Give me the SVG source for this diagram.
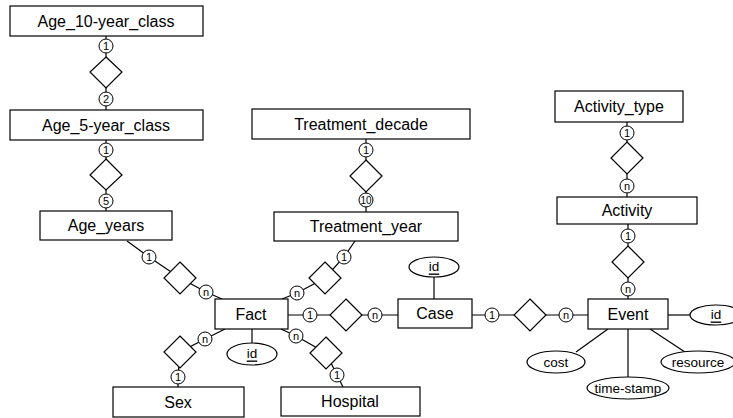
<svg xmlns="http://www.w3.org/2000/svg" width="733" height="418" viewBox="0 0 733 418">
<style>
.box{fill:#fff;stroke:#000;stroke-width:1.2}
.dia{fill:#fff;stroke:#000;stroke-width:1.2}
.ell{fill:#fff;stroke:#000;stroke-width:1.2}
.c{fill:#fff;stroke:#000;stroke-width:1}
.ln{stroke:#000;stroke-width:1.2;fill:none}
.t{font-family:"Liberation Sans",Arial,sans-serif;font-size:16px;text-anchor:middle;dominant-baseline:central;fill:#000}
.a{font-family:"Liberation Sans",Arial,sans-serif;font-size:13.5px;text-anchor:middle;dominant-baseline:central;fill:#000}
.s{font-family:"Liberation Sans",Arial,sans-serif;font-size:11px;text-anchor:middle;dominant-baseline:central;fill:#000}
</style>
<rect width="733" height="418" fill="#fff"/>
<g id="connectors">
<line class="ln" x1="106" y1="36" x2="106" y2="110"/>
<line class="ln" x1="106" y1="140" x2="106" y2="211"/>
<line class="ln" x1="366" y1="139" x2="366" y2="212"/>
<line class="ln" x1="627" y1="122" x2="627" y2="197"/>
<line class="ln" x1="628" y1="224" x2="628" y2="299"/>
<polyline class="ln" points="127,241 149,257 180,278 206,292 222,299"/>
<polyline class="ln" points="355,241 344,257 325,278 297,293 282,299"/>
<line class="ln" x1="288" y1="315" x2="398" y2="315"/>
<line class="ln" x1="472" y1="315" x2="588" y2="315"/>
<polyline class="ln" points="225,329 205,339 180,352 178,377 178,387"/>
<polyline class="ln" points="281,329 296,336 326,353 337,375 343,387"/>
<line class="ln" x1="252" y1="329" x2="252" y2="344"/>
<line class="ln" x1="434" y1="277" x2="434" y2="299"/>
<line class="ln" x1="668" y1="315" x2="690" y2="315"/>
<line class="ln" x1="608" y1="329" x2="576" y2="352"/>
<line class="ln" x1="628" y1="329" x2="628" y2="378"/>
<line class="ln" x1="650" y1="329" x2="685" y2="352"/>
</g>
<g id="relationships">
<polygon class="dia" points="106,57 122,72 106,88 90,72"/>
<polygon class="dia" points="106,159 122,175 106,190 90,175"/>
<polygon class="dia" points="366,160 382,176 366,192 350,176"/>
<polygon class="dia" points="627,142 643,158 627,174 611,158"/>
<polygon class="dia" points="628,246 644,262 628,278 612,262"/>
<polygon class="dia" points="180,262 196,278 180,294 164,278"/>
<polygon class="dia" points="325,262 341,278 325,294 309,278"/>
<polygon class="dia" points="346,299 362,315 346,331 330,315"/>
<polygon class="dia" points="530,299 546,315 530,331 514,315"/>
<polygon class="dia" points="180,336 196,352 180,368 164,352"/>
<polygon class="dia" points="326,337 342,353 326,369 310,353"/>
</g>
<g id="cardinalities">
<circle class="c" cx="106" cy="46" r="7"/><text class="s" x="106" y="46">1</text>
<circle class="c" cx="106" cy="99" r="7"/><text class="s" x="106" y="99">2</text>
<circle class="c" cx="106" cy="150" r="7"/><text class="s" x="106" y="150">1</text>
<circle class="c" cx="106" cy="201" r="7"/><text class="s" x="106" y="201">5</text>
<circle class="c" cx="366" cy="150" r="7"/><text class="s" x="366" y="150">1</text>
<circle class="c" cx="366" cy="200" r="7"/><text class="s" x="366" y="200" style="font-size:10px">10</text>
<circle class="c" cx="627" cy="133" r="7"/><text class="s" x="627" y="133">1</text>
<circle class="c" cx="627" cy="186" r="7"/><text class="s" x="627" y="186">n</text>
<circle class="c" cx="628" cy="236" r="7"/><text class="s" x="628" y="236">1</text>
<circle class="c" cx="628" cy="289" r="7"/><text class="s" x="628" y="289">n</text>
<circle class="c" cx="149" cy="257" r="7"/><text class="s" x="149" y="257">1</text>
<circle class="c" cx="206" cy="292" r="7"/><text class="s" x="206" y="292">n</text>
<circle class="c" cx="344" cy="257" r="7"/><text class="s" x="344" y="257">1</text>
<circle class="c" cx="297" cy="293" r="7"/><text class="s" x="297" y="293">n</text>
<circle class="c" cx="310" cy="315" r="7"/><text class="s" x="310" y="315">1</text>
<circle class="c" cx="375" cy="315" r="7"/><text class="s" x="375" y="315">n</text>
<circle class="c" cx="492" cy="315" r="7"/><text class="s" x="492" y="315">1</text>
<circle class="c" cx="566" cy="315" r="7"/><text class="s" x="566" y="315">n</text>
<circle class="c" cx="205" cy="339" r="7"/><text class="s" x="205" y="339">n</text>
<circle class="c" cx="178" cy="377" r="7"/><text class="s" x="178" y="377">1</text>
<circle class="c" cx="296" cy="336" r="7"/><text class="s" x="296" y="336">n</text>
<circle class="c" cx="337" cy="375" r="7"/><text class="s" x="337" y="375">1</text>
</g>
<g id="Age_10-year_class"><rect class="box" x="10" y="6" width="193" height="30"/><text class="t" x="106" y="21">Age_10-year_class</text></g>
<g id="Age_5-year_class"><rect class="box" x="10" y="110" width="193" height="30"/><text class="t" x="106" y="125">Age_5-year_class</text></g>
<g id="Age_years"><rect class="box" x="40" y="211" width="132" height="29"/><text class="t" x="106" y="225.5">Age_years</text></g>
<g id="Treatment_decade"><rect class="box" x="252" y="109" width="218" height="30"/><text class="t" x="361" y="124">Treatment_decade</text></g>
<g id="Treatment_year"><rect class="box" x="274" y="212" width="184" height="29"/><text class="t" x="366" y="226.5">Treatment_year</text></g>
<g id="Activity_type"><rect class="box" x="555" y="91" width="128" height="31"/><text class="t" x="619" y="106.5">Activity_type</text></g>
<g id="Activity"><rect class="box" x="557" y="197" width="140" height="27"/><text class="t" x="627" y="210.5">Activity</text></g>
<g id="Fact"><rect class="box" x="215" y="299" width="73" height="30"/><text class="t" x="251" y="314">Fact</text></g>
<g id="Case"><rect class="box" x="398" y="299" width="74" height="29"/><text class="t" x="435" y="313.5">Case</text></g>
<g id="Event"><rect class="box" x="588" y="299" width="80" height="30"/><text class="t" x="628" y="314">Event</text></g>
<g id="Sex"><rect class="box" x="113" y="387" width="131" height="30"/><text class="t" x="178" y="402">Sex</text></g>
<g id="Hospital"><rect class="box" x="281" y="387" width="139" height="29"/><text class="t" x="350" y="401.5">Hospital</text></g>
<g id="Fact_id"><ellipse class="ell" cx="252" cy="354" rx="25" ry="11"/><text class="a" x="252" y="353" text-decoration="underline">id</text></g>
<g id="Case_id"><ellipse class="ell" cx="434" cy="267" rx="25" ry="10"/><text class="a" x="434" y="266" text-decoration="underline">id</text></g>
<g id="Event_id"><ellipse class="ell" cx="716" cy="315" rx="26" ry="10"/><text class="a" x="716" y="314" text-decoration="underline">id</text></g>
<g id="cost"><ellipse class="ell" cx="556" cy="362" rx="29" ry="11"/><text class="a" x="556" y="362">cost</text></g>
<g id="time-stamp"><ellipse class="ell" cx="628" cy="388" rx="41" ry="11"/><text class="a" x="628" y="388">time-stamp</text></g>
<g id="resource"><ellipse class="ell" cx="698" cy="362" rx="37" ry="11"/><text class="a" x="698" y="362">resource</text></g>
</svg>
